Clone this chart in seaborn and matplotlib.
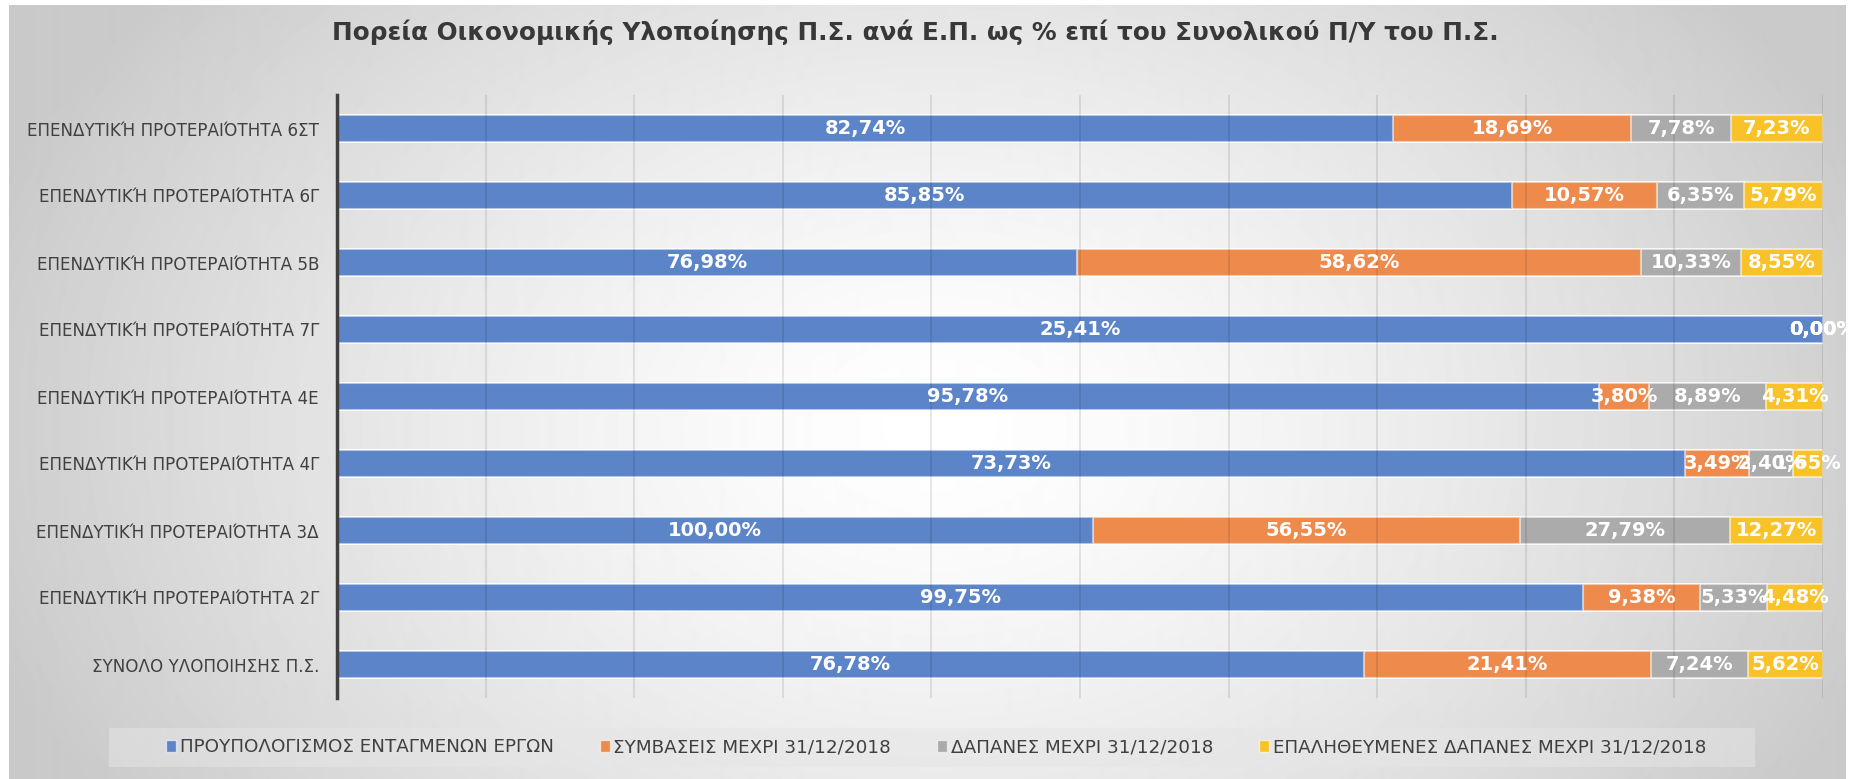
import numpy as np
import pandas as pd
import matplotlib.pyplot as plt
import seaborn as sns
from matplotlib.patches import Rectangle, Patch

categories = ['ΕΠΕΝΔΥΤΙΚΉ ΠΡΟΤΕΡΑΙΌΤΗΤΑ 6ΣΤ', 'ΕΠΕΝΔΥΤΙΚΉ ΠΡΟΤΕΡΑΙΌΤΗΤΑ 6Γ',
              'ΕΠΕΝΔΥΤΙΚΉ ΠΡΟΤΕΡΑΙΌΤΗΤΑ 5Β', 'ΕΠΕΝΔΥΤΙΚΉ ΠΡΟΤΕΡΑΙΌΤΗΤΑ 7Γ',
              'ΕΠΕΝΔΥΤΙΚΉ ΠΡΟΤΕΡΑΙΌΤΗΤΑ 4Ε', 'ΕΠΕΝΔΥΤΙΚΉ ΠΡΟΤΕΡΑΙΌΤΗΤΑ 4Γ',
              'ΕΠΕΝΔΥΤΙΚΉ ΠΡΟΤΕΡΑΙΌΤΗΤΑ 3Δ', 'ΕΠΕΝΔΥΤΙΚΉ ΠΡΟΤΕΡΑΙΌΤΗΤΑ 2Γ',
              'ΣΥΝΟΛΟ ΥΛΟΠΟΙΗΣΗΣ Π.Σ.']
budget = [82.74, 85.85, 76.98, 25.41, 95.78, 73.73, 100.00, 99.75, 76.78]
contracts = [18.69, 10.57, 58.62, 0.00, 3.80, 3.49, 56.55, 9.38, 21.41]
spending = [7.78, 6.35, 10.33, 0.00, 8.89, 2.40, 27.79, 5.33, 7.24]
verified = [7.23, 5.79, 8.55, 0.00, 4.31, 1.65, 12.27, 4.48, 5.62]
series_names = ['ΠΡΟΥΠΟΛΟΓΙΣΜΟΣ ΕΝΤΑΓΜΕΝΩΝ ΕΡΓΩΝ', 'ΣΥΜΒΑΣΕΙΣ ΜΕΧΡΙ 31/12/2018',
                'ΔΑΠΑΝΕΣ ΜΕΧΡΙ 31/12/2018', 'ΕΠΑΛΗΘΕΥΜΕΝΕΣ ΔΑΠΑΝΕΣ ΜΕΧΡΙ 31/12/2018']
title = 'Πορεία Οικονομικής Υλοποίησης Π.Σ. ανά Ε.Π. ως % επί του Συνολικού Π/Υ του Π.Σ.'
colors = ['#5B84C9', '#EE8B4C', '#ABABAB', '#F8C228']

df = pd.DataFrame({series_names[0]: budget, series_names[1]: contracts,
                   series_names[2]: spending, series_names[3]: verified}, index=categories)
# 100% stacked: each value as share of the row total
share = df.div(df.sum(axis=1), axis=0) * 100
cum = share.cumsum(axis=1)

sns.set_style('white')
plt.rcParams['font.family'] = ['DejaVu Sans']

W, H = 1851, 779
fig = plt.figure(figsize=(W / 100, H / 100), dpi=100)
fig.patch.set_facecolor('white')

# radial grey background
bg = fig.add_axes([9 / W, 0, (1845 - 9) / W, 1 - 5 / H])
yy, xx = np.mgrid[0:774, 0:1836]
r = np.sqrt(((xx - 930) / 1000) ** 2 + ((yy - 420) / 700) ** 2)
shade = 1 - 0.21 * np.clip(r, 0, 1.0) ** 1.4
bg.imshow(shade, cmap='gray', vmin=0, vmax=1, aspect='auto', interpolation='bilinear')
bg.axis('off')

ax = fig.add_axes([337 / W, 1 - 698 / H, (1823 - 337) / W, (698 - 95) / H])
ax.patch.set_alpha(0)

# draw cumulative bars from the longest to the shortest so they look stacked
for col, c in reversed(list(zip(share.columns, colors))):
    sns.barplot(x=cum[col].values, y=categories, color=c, width=0.4, orient='h',
                errorbar=None, saturation=1, ax=ax,
                edgecolor=(1, 1, 1, 0.55), linewidth=1.5)

for i, cat in enumerate(categories):
    for col in share.columns:
        xc = cum.loc[cat, col] - share.loc[cat, col] / 2
        txt = f'{df.loc[cat, col]:.2f}'.replace('.', ',') + '%'
        ax.text(xc, i, txt, ha='center', va='center', color='white',
                fontsize=14, fontweight='bold', zorder=5)

ax.set_xlim(0, 100)
ax.set_ylim(8.5, -0.5)
ax.set_xticks(range(0, 101, 10))
ax.grid(axis='x', color='black', alpha=0.11, linewidth=1.2)
ax.set_axisbelow(False)
ax.tick_params(axis='x', length=0, labelbottom=False)
ax.tick_params(axis='y', length=0, pad=13, labelsize=12.1, labelcolor='#404040')
for s in ['top', 'right', 'bottom']:
    ax.spines[s].set_visible(False)
ax.spines['left'].set_color('#404040')
ax.spines['left'].set_linewidth(2.5)
ax.spines['left'].set_zorder(6)
ax.set_xlabel('')
ax.set_ylabel('')

fig.text(915 / W, 1 - 32 / H, title, ha='center', va='center', fontsize=17.8,
         fontweight='bold', color='#383838')

fig.patches.append(Rectangle((109 / W, 1 - 767 / H), 1646 / W, 39 / H,
                             transform=fig.transFigure, facecolor='#e6e6e6',
                             alpha=0.5, edgecolor='none', zorder=1))
handles = [Patch(facecolor=c, edgecolor=(1, 1, 1, 0.6)) for c in colors]
fig.legend(handles, series_names, ncol=4, loc='center',
           bbox_to_anchor=(166 / W, 1 - 767 / H, (1706 - 166) / W, 39 / H),
           mode='expand', frameon=False, fontsize=13.2, labelcolor='#404040',
           handlelength=0.55, handleheight=0.55, handletextpad=0.2,
           borderaxespad=0, borderpad=0)

fig.savefig('out.png', dpi=100)
